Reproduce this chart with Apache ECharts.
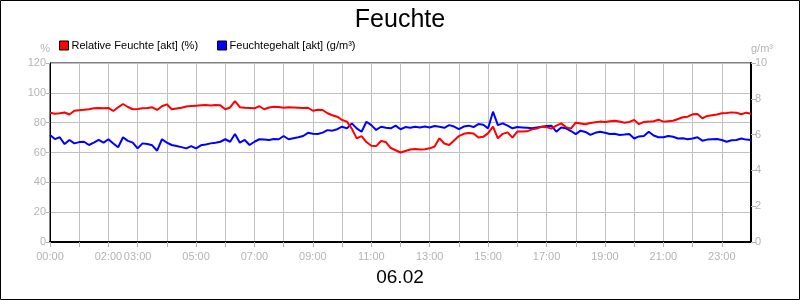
<!DOCTYPE html>
<html>
<head>
<meta charset="utf-8">
<script src="https://cdn.jsdelivr.net/npm/echarts@6/dist/echarts.min.js"></script>
<style>
  html, body { margin: 0; padding: 0; background: #fff; }
  #chart { width: 800px; height: 300px; }
</style>
</head>
<body>
<div id="chart"></div>
<script>
// Messwerte alle 10 Minuten, 00:00 bis 24:00
const startMinute = 0
const stepMinutes = 10

// Relative Feuchte [akt] (%)
const relFeuchte = [
  86.7, 86.0, 86.3, 86.8, 85.5, 88.0,
  88.3, 88.6, 89.0, 89.6, 89.8, 89.7,
  89.9, 87.8, 90.3, 92.5, 90.5, 89.0,
  89.2, 89.6, 89.8, 90.3, 88.5, 91.0,
  92.3, 89.0, 89.5, 90.0, 90.8, 91.2,
  91.4, 91.6, 91.8, 91.5, 91.8, 91.6,
  89.0, 90.2, 94.5, 90.4, 90.0, 89.8,
  89.6, 91.0, 89.0, 90.2, 90.7, 90.5,
  90.0, 90.4, 90.2, 90.0, 89.8, 90.0,
  88.0, 88.6, 88.5, 86.3, 85.0, 84.0,
  81.8, 80.7, 76.0, 69.5, 71.0, 67.0,
  64.5, 64.3, 67.7, 67.0, 63.0, 61.5,
  60.0, 61.0, 62.0, 62.3, 62.0, 62.2,
  62.8, 64.0, 69.5, 66.0, 65.0, 68.0,
  71.0, 72.5, 73.0, 72.8, 70.0, 70.5,
  73.0, 77.3, 69.5, 72.5, 73.5, 70.0,
  74.0, 74.0, 74.2, 75.5, 76.0, 77.3,
  77.0, 76.0, 78.0, 79.5, 77.0, 76.0,
  80.0, 79.5, 79.0, 79.8, 80.3, 80.7,
  80.5, 81.0, 81.3, 80.8, 80.0, 80.5,
  81.8, 79.0, 80.5, 80.7, 81.0, 82.0,
  80.7, 81.0, 81.3, 82.5, 83.6, 84.0,
  85.6, 85.8, 82.9, 84.5, 85.0, 85.5,
  86.3, 86.5, 86.9, 86.7, 85.6, 86.7,
  86.0
]

// Feuchtegehalt [akt] (g/m³)
const feuchteGehalt = [
  5.98, 5.75, 5.85, 5.47, 5.70, 5.51,
  5.58, 5.60, 5.42, 5.55, 5.70, 5.55,
  5.74, 5.50, 5.29, 5.85, 5.65, 5.55,
  5.23, 5.51, 5.47, 5.40, 5.10, 5.74,
  5.55, 5.42, 5.36, 5.30, 5.23, 5.36,
  5.23, 5.40, 5.45, 5.51, 5.55, 5.60,
  5.74, 5.60, 6.03, 5.55, 5.70, 5.42,
  5.60, 5.74, 5.72, 5.70, 5.75, 5.74,
  5.92, 5.74, 5.80, 5.85, 5.92, 6.10,
  6.05, 6.03, 6.11, 6.25, 6.22, 6.30,
  6.44, 6.35, 6.63, 6.35, 6.16, 6.72,
  6.53, 6.26, 6.44, 6.38, 6.35, 6.50,
  6.30, 6.42, 6.38, 6.44, 6.40, 6.45,
  6.40, 6.48, 6.44, 6.38, 6.53, 6.45,
  6.30, 6.45, 6.50, 6.42, 6.59, 6.55,
  6.35, 7.28, 6.53, 6.63, 6.50, 6.35,
  6.42, 6.40, 6.38, 6.35, 6.40, 6.44,
  6.48, 6.50, 6.16, 6.40, 6.35, 6.20,
  6.03, 6.22, 6.15, 5.98, 6.10, 6.16,
  6.10, 6.03, 6.05, 5.98, 6.00, 6.03,
  5.78, 5.90, 5.92, 6.16, 5.95, 5.85,
  5.85, 5.92, 5.88, 5.78, 5.80, 5.74,
  5.78, 5.85, 5.66, 5.72, 5.74, 5.75,
  5.70, 5.60, 5.68, 5.70, 5.78, 5.72,
  5.70
]

// beschriftete Stunden der x-Achse
const xTickLabels = ['00:00', '02:00', '03:00', '05:00', '07:00', '09:00', '11:00',
  '13:00', '15:00', '17:00', '19:00', '21:00', '23:00']

const toPairs = (arr) => arr.map((v, i) => [startMinute + i * stepMinutes, v])

const grey = '#b4b4b4'
const font = 'Liberation Sans, Arial, sans-serif'

const myChart = echarts.init(document.getElementById('chart'))

const option = {
  animation: false,
  title: [
    {
      text: 'Feuchte',
      left: 'center',
      top: 3,
      textStyle: { fontFamily: font, fontSize: 25, fontWeight: 'normal', color: '#000' },
    },
    {
      text: '06.02',
      left: 'center',
      top: 263,
      textStyle: { fontFamily: font, fontSize: 19, fontWeight: 'normal', color: '#000' },
    },
  ],
  legend: {
    left: 54,
    top: 35,
    itemWidth: 9,
    itemHeight: 9,
    itemGap: 19,
    icon: 'rect',
    textStyle: { fontFamily: font, fontSize: 11, color: '#000', padding: [0, 0, 0, -2] },
    data: [
      { name: 'Relative Feuchte [akt] (%)', itemStyle: { color: '#ff0000', borderColor: '#000', borderWidth: 1 } },
      { name: 'Feuchtegehalt [akt] (g/m³)', itemStyle: { color: '#0000ff', borderColor: '#000', borderWidth: 1 } },
    ],
  },
  grid: {
    left: 50,
    right: 49,
    top: 63,
    bottom: 58,
    show: true,
    borderColor: '#000',
    borderWidth: 1,
    backgroundColor: 'transparent',
  },
  xAxis: {
    type: 'value',
    min: 0,
    max: 1440,
    interval: 60,
    axisLine: { show: true, lineStyle: { color: '#000', width: 2 } },
    axisTick: { show: true, length: 5, lineStyle: { color: grey } },
    splitLine: { show: true, lineStyle: { color: '#c0c0c0', width: 1 } },
    axisLabel: {
      color: grey,
      fontFamily: font,
      fontSize: 11,
      margin: 9,
      showMinLabel: true,
      showMaxLabel: false,
      formatter: (v) => {
        const h = Math.round(v / 60)
        const label = (h < 10 ? '0' : '') + h + ':00'
        return xTickLabels.includes(label) ? label : ''
      },
    },
  },
  yAxis: [
    {
      type: 'value',
      min: 0,
      max: 120,
      interval: 20,
      name: '%',
      nameGap: 9,
      nameTextStyle: { color: grey, fontFamily: font, fontSize: 11, align: 'right' },
      axisLine: { show: true, lineStyle: { color: '#000' } },
      axisTick: { show: true, length: 4, lineStyle: { color: grey } },
      splitLine: { show: true, lineStyle: { color: '#c0c0c0' } },
      axisLabel: { color: grey, fontFamily: font, fontSize: 11, margin: 4 },
    },
    {
      type: 'value',
      min: 0,
      max: 10,
      interval: 2,
      name: 'g/m³',
      nameGap: 9,
      nameTextStyle: { color: grey, fontFamily: font, fontSize: 11, align: 'left' },
      axisLine: { show: true, lineStyle: { color: '#000', width: 2 } },
      axisTick: { show: true, length: 5, lineStyle: { color: grey } },
      splitLine: { show: false },
      axisLabel: { color: grey, fontFamily: font, fontSize: 11, margin: 4 },
    },
  ],
  series: [
    {
      name: 'Relative Feuchte [akt] (%)',
      type: 'line',
      yAxisIndex: 0,
      data: toPairs(relFeuchte),
      showSymbol: false,
      lineStyle: { color: '#ff0000', width: 2 },
      itemStyle: { color: '#ff0000' },
      z: 3,
    },
    {
      name: 'Feuchtegehalt [akt] (g/m³)',
      type: 'line',
      yAxisIndex: 1,
      data: toPairs(feuchteGehalt),
      showSymbol: false,
      lineStyle: { color: '#0000ff', width: 2 },
      itemStyle: { color: '#0000ff' },
      z: 2,
    },
  ],
  graphic: [
    {
      type: 'rect',
      shape: { x: 0.5, y: 0.5, width: 799, height: 299 },
      style: { fill: 'none', stroke: '#000', lineWidth: 1 },
      silent: true,
    },
  ],
}

myChart.setOption(option)
</script>
</body>
</html>
